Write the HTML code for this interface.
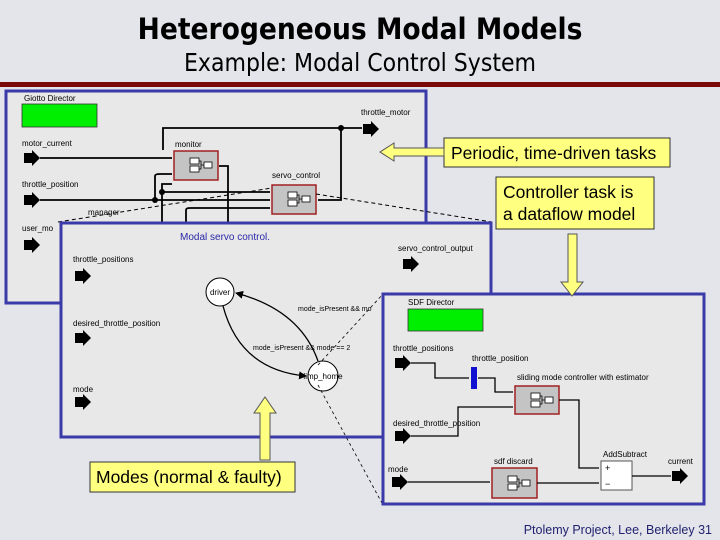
<!DOCTYPE html>
<html><head><style>
body{margin:0;width:720px;height:540px;overflow:hidden;background:#e3e5eb;}
svg{display:block}
text{font-family:"Liberation Sans",sans-serif;}
</style></head><body>
<svg width="720" height="540" viewBox="0 0 720 540">
<defs>
<marker id="ah" markerWidth="8" markerHeight="8" refX="7" refY="4" orient="auto" markerUnits="userSpaceOnUse"><path d="M0,0 L8,4 L0,8z" fill="#000"/></marker>
<g id="port"><path d="M0,-5 L8,-5 L8,-8 L16,0 L8,8 L8,5 L0,5z" fill="#000"/></g>
<g id="comp"><rect x="10" y="7" width="9" height="6" fill="#fff" stroke="#000" stroke-width="0.8"/><rect x="10" y="15" width="9" height="6" fill="#fff" stroke="#000" stroke-width="0.8"/><rect x="24" y="11" width="8" height="6" fill="#fff" stroke="#000" stroke-width="0.8"/><path d="M19,10 H21 V18 H19 M21,14 H24" fill="none" stroke="#000" stroke-width="0.8"/></g>
</defs>
<text x="360" y="39" font-size="29.5" font-weight="bold" text-anchor="middle" style="font-family:'DejaVu Sans Condensed','DejaVu Sans',sans-serif">Heterogeneous Modal Models</text>
<text x="360" y="71" font-size="24.5" text-anchor="middle" style="font-family:'DejaVu Sans Condensed','DejaVu Sans',sans-serif">Example: Modal Control System</text>
<rect x="0" y="82" width="720" height="5" fill="#7a0a0a"/>

<rect x="6" y="91" width="420" height="212" fill="#e8e8e8" stroke="#3a3aa8" stroke-width="3"/>
<text x="24" y="101" font-size="8">Giotto Director</text>
<rect x="22" y="104" width="75" height="23" fill="#00ee00" stroke="#333" stroke-width="0.8"/>
<text x="22" y="146" font-size="8">motor_current</text>
<use href="#port" x="24" y="158"/>
<text x="22" y="187" font-size="8">throttle_position</text>
<use href="#port" x="24" y="200"/>
<text x="22" y="231" font-size="8">user_mo</text>
<use href="#port" x="24" y="245"/>
<text x="88" y="215" font-size="8">manager</text>
<text x="361" y="115" font-size="8">throttle_motor</text>
<use href="#port" x="363" y="129"/>
<g fill="none" stroke="#000" stroke-width="1.8">
<path d="M40,158 H172"/>
<path d="M40,200 H270"/>
<path d="M163,150 V128 H362"/>
<path d="M341,128 V200 H318"/>
<path d="M219,166 H228 V230"/>
<path d="M155,200 V176 Q155,174 160,174 H172"/>
<path d="M162,230 V184 H172"/>
<path d="M162,192 H270"/>
<path d="M186,230 V210 Q186,208 190,208 H270"/>
</g>
<circle cx="341" cy="128" r="3"/><circle cx="155" cy="200" r="3"/><circle cx="162" cy="192" r="3"/>
<text x="175" y="147" font-size="8">monitor</text>
<rect x="174" y="151" width="44" height="29" fill="#c4c4c4" stroke="#a02020" stroke-width="1.5"/>
<use href="#comp" x="180" y="151"/>
<text x="272" y="178" font-size="8">servo_control</text>
<rect x="272" y="185" width="44" height="29" fill="#c4c4c4" stroke="#a02020" stroke-width="1.5"/>
<use href="#comp" x="278" y="185"/>
<path d="M58,222 L272,188 M316,194 L492,222" stroke="#000" stroke-width="1" stroke-dasharray="4,3" fill="none"/>

<rect x="61" y="223" width="430" height="214" fill="#e8e8e8" stroke="#3a3aa8" stroke-width="3"/>
<text x="180" y="240" font-size="10" fill="#2828a8">Modal servo control.</text>
<text x="73" y="262" font-size="8">throttle_positions</text>
<use href="#port" x="75" y="276"/>
<text x="398" y="251" font-size="8">servo_control_output</text>
<use href="#port" x="403" y="264"/>
<text x="73" y="326" font-size="8">desired_throttle_position</text>
<use href="#port" x="75" y="338"/>
<text x="73" y="392" font-size="8">mode</text>
<use href="#port" x="75" y="402"/>
<circle cx="220" cy="292" r="14" fill="#fff" stroke="#000"/>
<text x="220" y="295" font-size="8" text-anchor="middle">driver</text>
<circle cx="323" cy="376" r="15" fill="#fff" stroke="#000"/>
<text x="323" y="379" font-size="8" text-anchor="middle">limp_home</text>
<path d="M318,361 Q300,310 236,293" fill="none" stroke="#000" stroke-width="1.3" marker-end="url(#ah)"/>
<path d="M223,306 Q240,370 306,376" fill="none" stroke="#000" stroke-width="1.3" marker-end="url(#ah)"/>
<text x="298" y="311" font-size="7">mode_isPresent &amp;&amp; mo</text>
<text x="253" y="350" font-size="7">mode_isPresent &amp;&amp; mode == 2</text>
<path d="M318,365 L383,294 M318,385 L383,505" stroke="#000" stroke-width="0.8" stroke-dasharray="3,3"/>

<rect x="383" y="294" width="321" height="210" fill="#e8e8e8" stroke="#3a3aa8" stroke-width="3"/>
<text x="408" y="305" font-size="8">SDF Director</text>
<rect x="408" y="309" width="75" height="22" fill="#00ee00" stroke="#333" stroke-width="0.8"/>
<text x="393" y="351" font-size="8">throttle_positions</text>
<use href="#port" x="395" y="363"/>
<text x="472" y="361" font-size="8">throttle_position</text>
<rect x="471" y="367" width="6" height="22" fill="#1010d0"/>
<text x="517" y="380" font-size="8">sliding mode controller with estimator</text>
<rect x="515" y="386" width="44" height="28" fill="#c4c4c4" stroke="#a02020" stroke-width="1.5"/>
<use href="#comp" x="521" y="386"/>
<text x="393" y="426" font-size="8">desired_throttle_position</text>
<use href="#port" x="395" y="436"/>
<text x="388" y="472" font-size="8">mode</text>
<use href="#port" x="392" y="482"/>
<text x="494" y="464" font-size="8">sdf discard</text>
<rect x="492" y="468" width="45" height="30" fill="#c4c4c4" stroke="#a02020" stroke-width="1.5"/>
<use href="#comp" x="498" y="469"/>
<text x="603" y="457" font-size="8">AddSubtract</text>
<rect x="601" y="461" width="31" height="29" fill="#fff" stroke="#555"/>
<text x="605" y="471" font-size="9">+</text><text x="605" y="487" font-size="9">−</text>
<text x="668" y="464" font-size="8">current</text>
<use href="#port" x="672" y="476"/>
<g fill="none" stroke="#000" stroke-width="1.3">
<path d="M411,363 H435 V378 H469"/>
<path d="M478,378 H495 V392 H513"/>
<path d="M411,436 H458 V407 H513"/>
<path d="M559,400 H579 V468 H599"/>
<path d="M408,482 H490"/>
<path d="M537,483 H599"/>
<path d="M632,476 H671"/>
</g>

<rect x="444" y="138" width="226" height="29" fill="#ffff80" stroke="#333" stroke-width="1"/>
<text x="451" y="159" font-size="17.5">Periodic, time-driven tasks</text>
<path d="M380,152 L394,143 V148 H444 V156 H394 V161z" fill="#ffff80" stroke="#555" stroke-width="1"/>
<rect x="496" y="177" width="158" height="52" fill="#ffff80" stroke="#333" stroke-width="1"/>
<text x="503" y="198" font-size="17.5">Controller task is</text>
<text x="503" y="220" font-size="17.5">a dataflow model</text>
<path d="M568,234 H577 V282 H583 L572,296 L561,282 H568z" fill="#ffff80" stroke="#555" stroke-width="1"/>
<path d="M260,460 V413 H254 L265,397 L276,413 H270 V460z" fill="#ffff80" stroke="#555" stroke-width="1"/>
<rect x="90" y="462" width="205" height="30" fill="#ffff80" stroke="#333" stroke-width="1"/>
<text x="96" y="483" font-size="17.5">Modes (normal &amp; faulty)</text>
<text x="712" y="534" font-size="12.5" text-anchor="end" fill="#22226e">Ptolemy Project, Lee, Berkeley  31</text>
</svg>
</body></html>
